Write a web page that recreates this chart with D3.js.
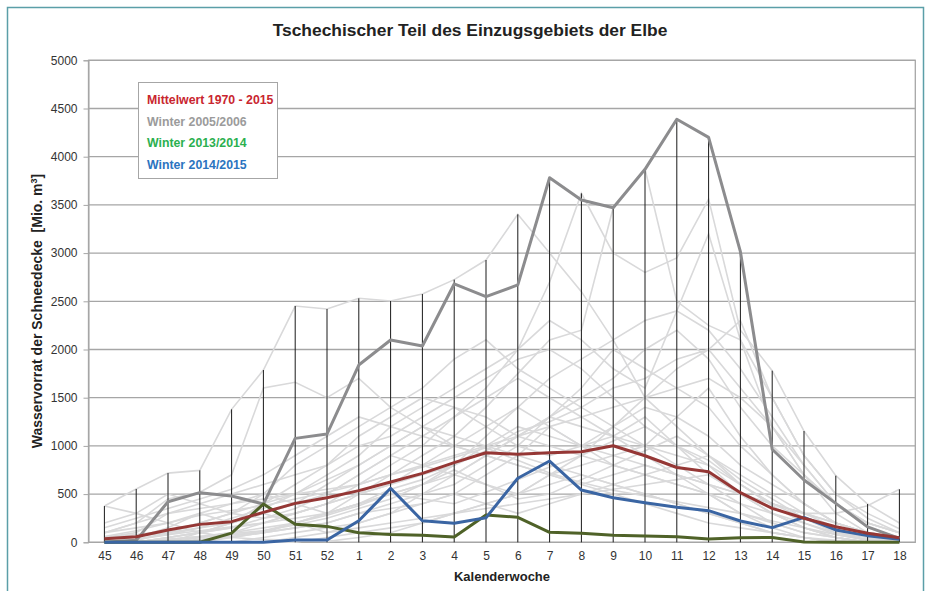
<!DOCTYPE html>
<html><head><meta charset="utf-8">
<script src="https://cdn.jsdelivr.net/npm/d3@7"></script>
<style>
body{margin:0;background:#fff;}
svg{display:block;font-family:"Liberation Sans",Arial,sans-serif;}
</style></head>
<body><svg id="c" width="930" height="591"></svg>
<script>
const weeks = ["45","46","47","48","49","50","51","52","1","2","3","4","5","6","7","8","9","10","11","12","13","14","15","16","17","18"];
const yTicks = [0,500,1000,1500,2000,2500,3000,3500,4000,4500,5000];

const mean1970_2015 = [38,58,128,186,214,311,404,463,536,625,715,826,929,913,929,940,1002,898,776,733,515,352,249,162,93,48];
const winter2005_2006 = [0,20,421,515,480,397,1078,1123,1839,2098,2036,2680,2548,2670,3782,3551,3471,3869,4388,4201,3015,965,646,404,160,40];
const winter2013_2014 = [0,0,0,0,95,397,188,165,100,82,72,55,283,259,104,93,72,65,58,35,48,50,2,0,0,0];
const winter2014_2015 = [0,0,0,0,0,0,24,24,224,560,224,197,255,664,843,542,463,411,363,328,221,152,259,128,69,31];
const weeklyMax = [376,553,718,746,1379,1787,2451,2420,2531,2503,2575,2725,2928,3402,3782,3620,3471,3872,4388,4201,3015,1780,1154,691,397,550];

const otherWinters = [
 [376,553,718,746,1379,1787,2451,2420,2531,2503,2575,2725,2928,3402,3000,2600,2100,1500,1200,900,600,400,250,120,60,20],
 [100,200,450,520,700,1600,1660,1500,1700,1400,1200,1000,900,800,700,600,500,400,300,200,150,100,50,20,0,0],
 [0,0,50,100,150,200,300,400,600,800,1000,1300,1600,2000,2700,3620,3000,2800,2950,3560,2200,1780,1154,691,397,200],
 [0,0,0,20,50,100,200,300,500,700,900,1100,1400,1750,2100,2200,3471,3872,2500,2250,2100,1200,700,400,200,100],
 [0,20,100,200,300,400,500,700,900,1200,1400,1600,1800,2000,2300,2100,1800,1600,2400,3200,2100,1500,900,500,300,140],
 [50,100,300,400,500,600,700,800,1000,1100,1300,1500,1700,1900,2000,1800,1500,1200,1000,800,500,300,150,50,0,0],
 [0,50,150,300,200,300,400,500,700,900,800,700,900,1100,1300,1500,1700,2000,2200,1900,1400,1000,700,400,200,100],
 [200,300,500,400,300,250,300,400,500,600,700,800,1000,1200,1100,1000,1200,1400,1300,1100,800,600,400,200,100,50],
 [0,0,50,100,200,400,600,800,1100,1300,1500,1400,1200,1000,900,1000,1100,1300,1000,700,500,300,150,50,0,0],
 [0,0,0,0,50,100,150,200,300,400,500,600,800,1000,1300,1600,2000,1800,1600,1400,1000,700,400,200,100,0],
 [100,150,200,300,400,500,400,300,400,500,600,700,600,500,700,800,900,1000,900,800,600,400,300,200,100,50],
 [0,30,80,150,250,350,500,650,800,1000,1200,1400,1300,1100,1000,900,800,700,600,500,400,300,200,100,50,0],
 [0,0,20,50,80,100,150,200,300,350,400,500,700,900,1200,1000,800,700,600,500,300,150,50,0,0,0],
 [50,80,120,200,300,500,800,1000,1200,1400,1600,1900,2100,1800,1600,1400,1200,1000,800,600,400,200,100,50,0,0],
 [0,0,0,50,100,200,300,400,500,600,800,1000,1200,1400,1700,1900,2100,2300,2400,2200,1800,1300,800,400,150,50],
 [30,60,100,150,200,300,200,100,200,300,400,500,400,300,400,500,600,700,800,900,700,500,300,150,50,0],
 [0,0,50,100,150,250,350,500,700,900,1100,1300,1500,1700,1500,1300,1100,900,700,500,300,200,100,50,0,0],
 [0,0,0,0,0,50,100,150,200,300,500,700,900,1100,1300,1200,1100,1000,1300,1600,1100,700,400,200,100,50],
 [100,200,300,350,400,450,500,550,600,700,800,900,1000,1100,1200,1300,1400,1500,1600,1700,1500,1200,800,400,200,100],
 [0,0,0,100,200,300,400,600,800,1000,1200,1100,1000,900,800,700,600,500,400,300,200,100,50,0,0,0],
 [20,40,80,120,160,200,250,300,400,500,600,800,1100,1400,1200,1000,900,800,700,600,500,400,300,300,380,550],
 [0,0,30,60,100,150,200,300,400,550,650,800,950,1150,1250,1400,1600,1700,1900,2000,1600,1200,700,300,100,0],
 [0,0,0,0,0,0,0,50,100,150,200,300,400,500,700,900,1200,1500,1800,2000,2300,1500,900,500,250,100],
 [150,250,350,450,550,700,900,1100,1300,1200,1100,1000,900,800,700,600,700,800,700,600,500,400,300,200,100,50],
 [0,0,0,0,0,0,50,100,150,200,250,300,350,400,450,500,550,600,650,700,500,300,150,50,0,0],
 [376,300,200,100,50,30,20,10,50,100,200,300,400,500,600,700,600,500,400,300,200,100,50,0,0,0],
 [0,10,30,60,90,120,180,250,350,450,600,750,600,450,500,650,800,950,1100,900,650,450,250,100,30,0],
 [0,0,0,30,60,120,200,280,380,500,450,400,520,650,780,900,1050,1200,1000,850,600,380,200,80,20,0],
 [60,120,200,280,330,380,450,520,600,700,780,880,980,850,720,620,540,480,420,360,300,220,150,80,30,0]
];

const svg = d3.select("#c");
const L = 88.5, R = 915.3, T = 60.3, B = 542.3;
const x = d3.scalePoint().domain(weeks).range([L, R]).padding(0.5);
const y = d3.scaleLinear().domain([0, 5000]).range([B, T]);

// outer frame
svg.append("rect").attr("x",7.5).attr("y",7.5).attr("width",916).attr("height",600)
  .attr("fill","none").attr("stroke","#5b9fa8").attr("stroke-width",1.5);

// title
svg.append("text").attr("x",470).attr("y",36).attr("text-anchor","middle")
  .attr("font-size",17.4).attr("font-weight","bold").attr("fill","#222")
  .text("Tschechischer Teil des Einzugsgebiets der Elbe");

// gridlines
svg.append("g").selectAll("line").data(yTicks).join("line")
  .attr("x1",L).attr("x2",R).attr("y1",d=>y(d)).attr("y2",d=>y(d))
  .attr("stroke","#a6a6a6").attr("stroke-width",1.3);
// plot border
svg.append("rect").attr("x",L).attr("y",T).attr("width",R-L).attr("height",B-T)
  .attr("fill","none").attr("stroke","#a6a6a6").attr("stroke-width",1.3);

// y axis
const yAxis = d3.axisLeft(y).tickValues(yTicks).tickFormat(d3.format("d")).tickSize(5).tickPadding(6);
const gy = svg.append("g").attr("transform",`translate(${L},0)`).call(yAxis);
gy.select(".domain").attr("stroke","#a6a6a6");
gy.selectAll(".tick line").attr("stroke","#a6a6a6");
gy.selectAll(".tick text").attr("font-size",12).attr("fill","#333").attr("font-family","Liberation Sans, Arial, sans-serif");

// x axis
const xAxis = d3.axisBottom(x).tickSize(0).tickPadding(9);
const gx = svg.append("g").attr("transform",`translate(0,${B})`).call(xAxis);
gx.select(".domain").remove();
gx.selectAll(".tick text").attr("font-size",12).attr("fill","#333").attr("font-family","Liberation Sans, Arial, sans-serif");

// axis titles
svg.append("text").attr("x",502).attr("y",581).attr("text-anchor","middle")
  .attr("font-size",13).attr("font-weight","bold").attr("fill","#222").text("Kalenderwoche");
svg.append("text").attr("transform","translate(42,311) rotate(-90)").attr("text-anchor","middle")
  .attr("font-size",14).attr("font-weight","bold").attr("fill","#222")
  .html("Wasservorrat der Schneedecke&#160;&#160;[Mio. m<tspan baseline-shift=\"super\" font-size=\"9\">3</tspan>]");

const line = d3.line().x((d,i)=>x(weeks[i])).y(d=>y(d));

// other winters
svg.append("g").selectAll("path").data(otherWinters).join("path")
  .attr("d",line).attr("fill","none").attr("stroke","#d9d9da").attr("stroke-width",1.6);

// high lines
svg.append("g").selectAll("line").data(weeklyMax).join("line")
  .attr("x1",(d,i)=>x(weeks[i])).attr("x2",(d,i)=>x(weeks[i]))
  .attr("y1",y(0)).attr("y2",d=>y(d)).attr("stroke","#1a1a1a").attr("stroke-width",1);

// highlighted series
const series = [
  {v:winter2005_2006,c:"#8c8c8e",w:3},
  {v:winter2013_2014,c:"#4f6228",w:3},
  {v:winter2014_2015,c:"#3a65a3",w:3},
  {v:mean1970_2015,c:"#953735",w:3}
];
svg.append("g").selectAll("path").data(series).join("path")
  .attr("d",d=>line(d.v)).attr("fill","none").attr("stroke",d=>d.c)
  .attr("stroke-width",d=>d.w).attr("stroke-linejoin","round");

// legend
const lg = svg.append("g");
lg.append("rect").attr("x",138.5).attr("y",82.5).attr("width",139).attr("height",96)
  .attr("fill","#fff").attr("stroke","#a6a6a6").attr("stroke-width",1);
const legendItems = [
  {t:"Mittelwert 1970 - 2015",c:"#c9262f"},
  {t:"Winter 2005/2006",c:"#9b9b9b"},
  {t:"Winter 2013/2014",c:"#2bb04f"},
  {t:"Winter 2014/2015",c:"#2b74c0"}
];
lg.selectAll("text").data(legendItems).join("text")
  .attr("x",147).attr("y",(d,i)=>104+i*21.5).attr("font-size",12.3).attr("font-weight","bold")
  .attr("fill",d=>d.c).text(d=>d.t);
</script></body></html>
